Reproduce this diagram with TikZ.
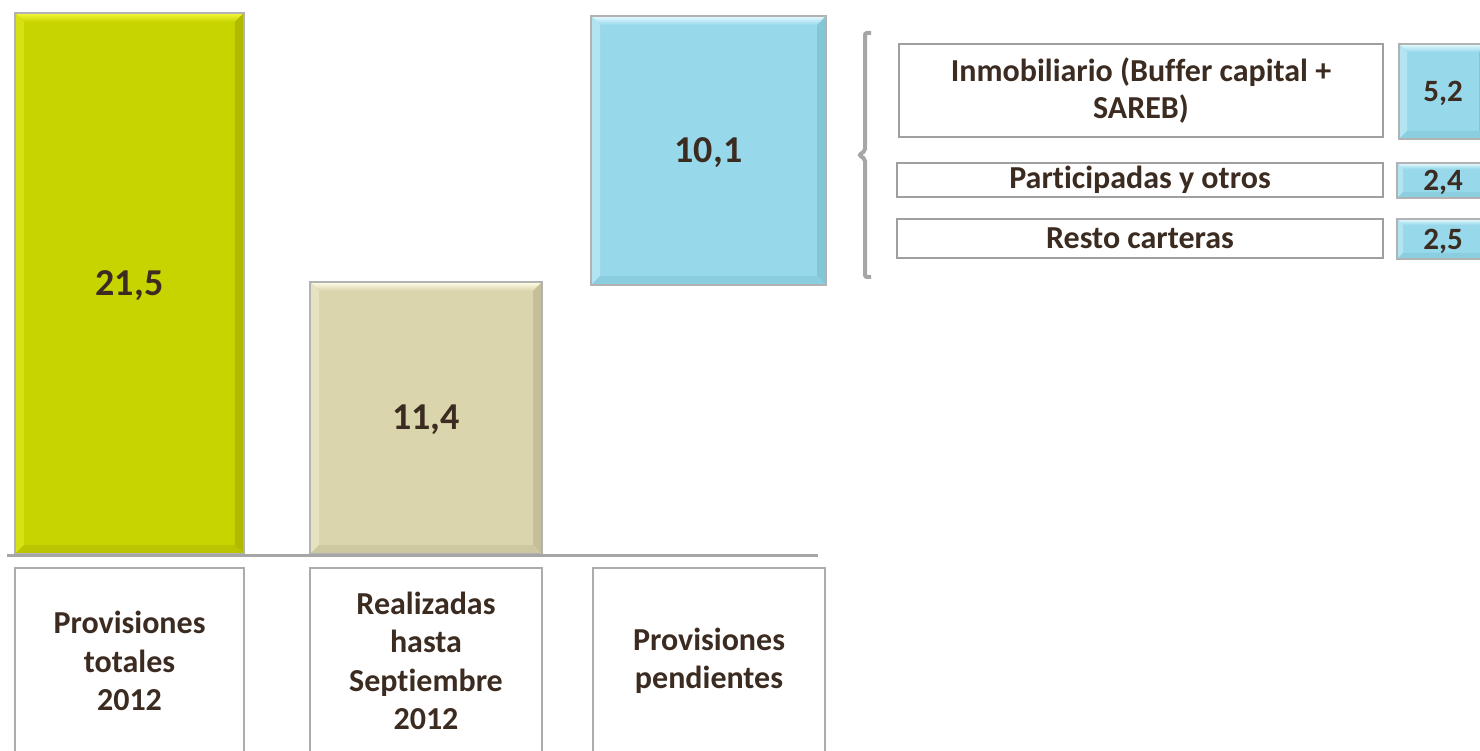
\documentclass[tikz,border=0pt]{standalone}
\usepackage{fontspec}
\setmainfont{Carlito}[Ligatures=NoCommon]
\definecolor{txt}{HTML}{3B2B20}
\definecolor{gbase}{HTML}{C8D400}
\definecolor{glight}{HTML}{F4F83A}
\definecolor{gdark}{HTML}{B0BA00}
\definecolor{bbase}{HTML}{DAD5AC}
\definecolor{blight}{HTML}{FFFDE6}
\definecolor{bdark}{HTML}{C4BF96}
\definecolor{cbase}{HTML}{97D9EB}
\definecolor{clight}{HTML}{E6FAFF}
\definecolor{cdark}{HTML}{84C6D8}
\definecolor{lgray}{HTML}{A6A6A6}
\newcommand\bevel[5]{% node, base, light, dark, width
  \shade[top color=#3, bottom color=#2] (#1.north west) -- (#1.north east) -- ([xshift=-#5,yshift=-#5]#1.north east) -- ([xshift=#5,yshift=-#5]#1.north west) -- cycle;
  \fill[#3!35!#2] (#1.north west) -- ([xshift=#5,yshift=-#5]#1.north west) -- ([xshift=#5,yshift=#5]#1.south west) -- (#1.south west) -- cycle;
  \fill[#4] (#1.north east) -- ([xshift=-#5,yshift=-#5]#1.north east) -- ([xshift=-#5,yshift=#5]#1.south east) -- (#1.south east) -- cycle;
  \fill[#4!60!#2] (#1.south west) -- ([xshift=#5,yshift=#5]#1.south west) -- ([xshift=-#5,yshift=#5]#1.south east) -- (#1.south east) -- cycle;
  \draw[gray!60, line width=1.5pt] (#1.south west) rectangle (#1.north east);
}
\tikzset{
  bar/.style={fill=#1, inner sep=0pt, outer sep=0pt},
  bigval/.style={text=txt, font=\fontsize{38}{44}\selectfont\bfseries},
  smallval/.style={text=txt, font=\fontsize{31}{36}\selectfont\bfseries},
  labelbox/.style={draw=gray!65, line width=2pt, fill=white, inner sep=0pt, outer sep=0pt,
    text=txt, align=center, font=\fontsize{32}{38.5}\selectfont\bfseries},
  itembox/.style={draw=gray!75, line width=1.8pt, fill=white, inner sep=0pt, outer sep=0pt,
    text=txt, align=center, font=\fontsize{32}{37}\selectfont\bfseries},
  valbox/.style={fill=cbase, inner sep=0pt, outer sep=0pt},
  brace/.style={draw=lgray, line width=4pt, rounded corners=2pt},
  axis/.style={draw=lgray, line width=3pt}
}
\begin{document}
\begin{tikzpicture}[x=1pt,y=-1pt]
\useasboundingbox (0,0) rectangle (1480,751);
\clip (0,0) rectangle (1480,751);
% bars
\node[bar=gbase, minimum width=229pt, minimum height=541pt] (b1) at (129.5,283.5) {};
\bevel{b1}{gbase}{glight}{gdark}{9pt}
\node[bigval] (t1) at ([yshift=-2pt]b1.center) {21,5};
\node[bar=bbase, minimum width=232pt, minimum height=272pt] (b2) at (426,418) {};
\bevel{b2}{bbase}{blight}{bdark}{9pt}
\node[bigval] (t2) at ([yshift=-2pt]b2.center) {11,4};
\node[bar=cbase, minimum width=235pt, minimum height=269pt] (b3) at (708.5,150.5) {};
\bevel{b3}{cbase}{clight}{cdark}{9pt}
\node[bigval] (t3) at ([yshift=-2pt]b3.center) {10,1};
% axis
\coordinate (axl) at (7,555);
\coordinate (axr) at (818,555);
\draw[axis] (axl) -- (axr);
% label boxes
\node[labelbox, minimum width=229pt, minimum height=186pt] (l1) at (129.5,661) {Provisiones\\totales\\2012};
\node[labelbox, minimum width=232pt, minimum height=186pt] (l2) at (426,661) {Realizadas\\hasta\\Septiembre\\2012};
\node[labelbox, minimum width=232pt, minimum height=186pt] (l3) at (709,661) {Provisiones\\pendientes};
% brace
\coordinate (bt) at (871,33);
\coordinate (bb) at (871,277);
\draw[brace] (bt) -- (865,33) -- (865,151) -- (859,155) -- (865,159) -- (865,277) -- (bb);
% right items
\node[itembox, minimum width=484pt, minimum height=93pt] (rA) at (1141,90.5) {Inmobiliario (Buffer capital +\\SAREB)};
\node[itembox, minimum width=486pt, minimum height=34pt] (rB) at (1140,180) {Participadas y otros};
\node[itembox, minimum width=486pt, minimum height=39pt] (rC) at (1140,238.5) {Resto carteras};
\node[valbox, minimum width=88pt, minimum height=95pt] (vA) at (1443,91.5) {};
\bevel{vA}{cbase}{clight}{cdark}{8pt}
\node[smallval] (vAt) at ([yshift=-2pt]vA.center) {5,2};
\node[valbox, minimum width=92pt, minimum height=35pt] (vB) at (1443,180.5) {};
\bevel{vB}{cbase}{clight}{cdark}{6pt}
\node[smallval] (vBt) at ([yshift=-2pt]vB.center) {2,4};
\node[valbox, minimum width=92pt, minimum height=40pt] (vC) at (1443,239) {};
\bevel{vC}{cbase}{clight}{cdark}{6pt}
\node[smallval] (vCt) at ([yshift=-2pt]vC.center) {2,5};
\end{tikzpicture}
\end{document}
